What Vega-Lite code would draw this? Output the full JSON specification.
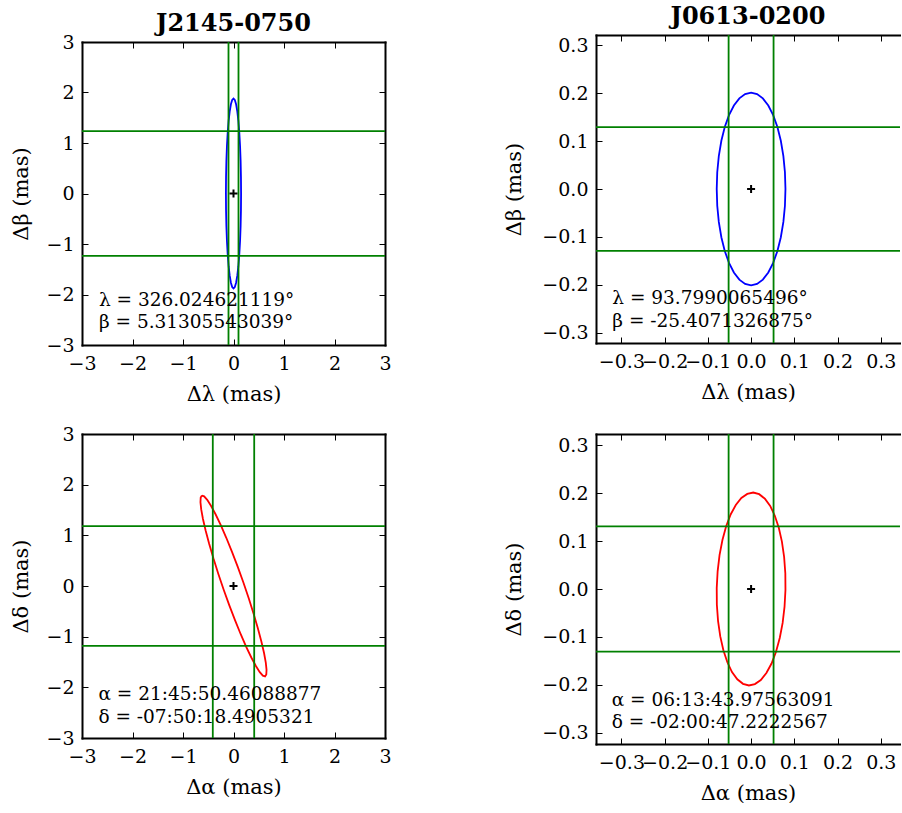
{
  "$schema": "https://vega.github.io/schema/vega-lite/v6.json",
  "padding": {"left": 10, "top": 5, "right": 0, "bottom": 0},
  "columns": 2,
  "spacing": {"row": 89, "column": 211},
  "bounds": "flush",
  "datasets": {
    "ellTL": [
      {"i":0,"x":0.150,"y":0},{"i":1,"x":0.1477,"y":0.3264},{"i":2,"x":0.1410,"y":0.6430},{"i":3,"x":0.1299,"y":0.9400},
      {"i":4,"x":0.1149,"y":1.2085},{"i":5,"x":0.0964,"y":1.4401},{"i":6,"x":0.0750,"y":1.6281},{"i":7,"x":0.0513,"y":1.7666},
      {"i":8,"x":0.0260,"y":1.8514},{"i":9,"x":0,"y":1.88},{"i":10,"x":-0.0260,"y":1.8514},{"i":11,"x":-0.0513,"y":1.7666},
      {"i":12,"x":-0.0750,"y":1.6281},{"i":13,"x":-0.0964,"y":1.4401},{"i":14,"x":-0.1149,"y":1.2085},{"i":15,"x":-0.1299,"y":0.9400},
      {"i":16,"x":-0.1410,"y":0.6430},{"i":17,"x":-0.1477,"y":0.3264},{"i":18,"x":-0.150,"y":0},{"i":19,"x":-0.1477,"y":-0.3264},
      {"i":20,"x":-0.1410,"y":-0.6430},{"i":21,"x":-0.1299,"y":-0.9400},{"i":22,"x":-0.1149,"y":-1.2085},{"i":23,"x":-0.0964,"y":-1.4401},
      {"i":24,"x":-0.0750,"y":-1.6281},{"i":25,"x":-0.0513,"y":-1.7666},{"i":26,"x":-0.0260,"y":-1.8514},{"i":27,"x":0,"y":-1.88},
      {"i":28,"x":0.0260,"y":-1.8514},{"i":29,"x":0.0513,"y":-1.7666},{"i":30,"x":0.0750,"y":-1.6281},{"i":31,"x":0.0964,"y":-1.4401},
      {"i":32,"x":0.1149,"y":-1.2085},{"i":33,"x":0.1299,"y":-0.9400},{"i":34,"x":0.1410,"y":-0.6430},{"i":35,"x":0.1477,"y":-0.3264},
      {"i":36,"x":0.150,"y":0}
    ],
    "ellTR": [
      {"i":0,"x":0.0795,"y":0},{"i":1,"x":0.0783,"y":0.0349},{"i":2,"x":0.0747,"y":0.0687},{"i":3,"x":0.0688,"y":0.1005},
      {"i":4,"x":0.0609,"y":0.1292},{"i":5,"x":0.0511,"y":0.1540},{"i":6,"x":0.0398,"y":0.1741},{"i":7,"x":0.0272,"y":0.1889},
      {"i":8,"x":0.0138,"y":0.1979},{"i":9,"x":0,"y":0.201},{"i":10,"x":-0.0138,"y":0.1979},{"i":11,"x":-0.0272,"y":0.1889},
      {"i":12,"x":-0.0398,"y":0.1741},{"i":13,"x":-0.0511,"y":0.1540},{"i":14,"x":-0.0609,"y":0.1292},{"i":15,"x":-0.0688,"y":0.1005},
      {"i":16,"x":-0.0747,"y":0.0687},{"i":17,"x":-0.0783,"y":0.0349},{"i":18,"x":-0.0795,"y":0},{"i":19,"x":-0.0783,"y":-0.0349},
      {"i":20,"x":-0.0747,"y":-0.0687},{"i":21,"x":-0.0688,"y":-0.1005},{"i":22,"x":-0.0609,"y":-0.1292},{"i":23,"x":-0.0511,"y":-0.1540},
      {"i":24,"x":-0.0398,"y":-0.1741},{"i":25,"x":-0.0272,"y":-0.1889},{"i":26,"x":-0.0138,"y":-0.1979},{"i":27,"x":0,"y":-0.201},
      {"i":28,"x":0.0138,"y":-0.1979},{"i":29,"x":0.0272,"y":-0.1889},{"i":30,"x":0.0398,"y":-0.1741},{"i":31,"x":0.0511,"y":-0.1540},
      {"i":32,"x":0.0609,"y":-0.1292},{"i":33,"x":0.0688,"y":-0.1005},{"i":34,"x":0.0747,"y":-0.0687},{"i":35,"x":0.0783,"y":-0.0349},
      {"i":36,"x":0.0795,"y":0}
    ],
    "ellBL": [
      {"i":0,"x":-0.6250,"y":1.7847},{"i":1,"x":-0.5815,"y":1.7695},{"i":2,"x":-0.5203,"y":1.7006},{"i":3,"x":-0.4433,"y":1.5798},
      {"i":4,"x":-0.3528,"y":1.4112},{"i":5,"x":-0.2517,"y":1.1997},{"i":6,"x":-0.1428,"y":0.9518},{"i":7,"x":-0.0296,"y":0.6749},
      {"i":8,"x":0.0845,"y":0.3774},{"i":9,"x":0.1960,"y":0.0686},{"i":10,"x":0.3015,"y":-0.2422},{"i":11,"x":0.3980,"y":-0.5459},
      {"i":12,"x":0.4822,"y":-0.8330},{"i":13,"x":0.5519,"y":-1.0947},{"i":14,"x":0.6048,"y":-1.3230},{"i":15,"x":0.6393,"y":-1.5112},
      {"i":16,"x":0.6543,"y":-1.6536},{"i":17,"x":0.6495,"y":-1.7457},{"i":18,"x":0.6250,"y":-1.7847},{"i":19,"x":0.5815,"y":-1.7695},
      {"i":20,"x":0.5203,"y":-1.7006},{"i":21,"x":0.4433,"y":-1.5798},{"i":22,"x":0.3528,"y":-1.4112},{"i":23,"x":0.2517,"y":-1.1997},
      {"i":24,"x":0.1428,"y":-0.9518},{"i":25,"x":0.0296,"y":-0.6749},{"i":26,"x":-0.0845,"y":-0.3774},{"i":27,"x":-0.1960,"y":-0.0686},
      {"i":28,"x":-0.3015,"y":0.2422},{"i":29,"x":-0.3980,"y":0.5459},{"i":30,"x":-0.4822,"y":0.8330},{"i":31,"x":-0.5519,"y":1.0947},
      {"i":32,"x":-0.6048,"y":1.3230},{"i":33,"x":-0.6393,"y":1.5112},{"i":34,"x":-0.6543,"y":1.6536},{"i":35,"x":-0.6495,"y":1.7457},
      {"i":36,"x":-0.6250,"y":1.7847}
    ],
    "ellBR": [
      {"i":0,"x":0.0795,"y":-0.0020},{"i":1,"x":0.0792,"y":0.0329},{"i":2,"x":0.0764,"y":0.0668},{"i":3,"x":0.0713,"y":0.0988},
      {"i":4,"x":0.0641,"y":0.1277},{"i":5,"x":0.0549,"y":0.1527},{"i":6,"x":0.0442,"y":0.1731},{"i":7,"x":0.0319,"y":0.1882},
      {"i":8,"x":0.0187,"y":0.1976},{"i":9,"x":0.0050,"y":0.2010},{"i":10,"x":-0.0088,"y":0.1982},{"i":11,"x":-0.0225,"y":0.1896},
      {"i":12,"x":-0.0354,"y":0.1751},{"i":13,"x":-0.0473,"y":0.1553},{"i":14,"x":-0.0577,"y":0.1307},{"i":15,"x":-0.0663,"y":0.1022},
      {"i":16,"x":-0.0730,"y":0.0706},{"i":17,"x":-0.0774,"y":0.0369},{"i":18,"x":-0.0795,"y":0.0020},{"i":19,"x":-0.0792,"y":-0.0329},
      {"i":20,"x":-0.0764,"y":-0.0668},{"i":21,"x":-0.0713,"y":-0.0988},{"i":22,"x":-0.0641,"y":-0.1277},{"i":23,"x":-0.0549,"y":-0.1527},
      {"i":24,"x":-0.0442,"y":-0.1731},{"i":25,"x":-0.0319,"y":-0.1882},{"i":26,"x":-0.0187,"y":-0.1976},{"i":27,"x":-0.0050,"y":-0.2010},
      {"i":28,"x":0.0088,"y":-0.1982},{"i":29,"x":0.0225,"y":-0.1896},{"i":30,"x":0.0354,"y":-0.1751},{"i":31,"x":0.0473,"y":-0.1553},
      {"i":32,"x":0.0577,"y":-0.1307},{"i":33,"x":0.0663,"y":-0.1022},{"i":34,"x":0.0730,"y":-0.0706},{"i":35,"x":0.0774,"y":-0.0369},
      {"i":36,"x":0.0795,"y":-0.0020}
    ],
    "gTL": [{"vx": -0.099, "hy": -1.237}, {"vx": 0.099, "hy": 1.237}],
    "gTR": [{"vx": -0.052, "hy": -0.129}, {"vx": 0.052, "hy": 0.129}],
    "gBL": [{"vx": -0.41, "hy": -1.18}, {"vx": 0.41, "hy": 1.18}],
    "gBR": [{"vx": -0.052, "hy": -0.1305}, {"vx": 0.052, "hy": 0.1305}],
    "center": [{"cx": 0, "cy": 0}],
    "tTL": [{"tx": -2.665, "ty": -2.234, "label": "λ = 326.024621119°"}, {"tx": -2.665, "ty": -2.669, "label": "β = 5.31305543039°"}],
    "tTR": [{"tx": -0.321, "ty": -0.2397, "label": "λ = 93.7990065496°"}, {"tx": -0.321, "ty": -0.2877, "label": "β = -25.4071326875°"}],
    "tBL": [{"tx": -2.675, "ty": -2.244, "label": "α = 21:45:50.46088877"}, {"tx": -2.675, "ty": -2.704, "label": "δ = -07:50:18.4905321"}],
    "tBR": [{"tx": -0.3225, "ty": -0.2432, "label": "α = 06:13:43.97563091"}, {"tx": -0.3225, "ty": -0.2897, "label": "δ = -02:00:47.2222567"}]
  },
  "concat": [
    {
      "width": 303, "height": 310,
      "title": {"text": "J2145-0750", "offset": -3},
      "resolve": {"axis": {"x": "independent", "y": "independent"}},
      "layer": [
        {
          "data": {"name": "ellTL"},
          "mark": {"type": "line", "color": "#0000ff", "strokeWidth": 1.8},
          "encoding": {
            "x": {"field": "x", "type": "quantitative", "scale": {"domain": [-3, 3], "nice": false, "zero": false},
                  "axis": {"orient": "bottom", "values": [-3,-2,-1,0,1,2,3], "format": "d", "title": "Δλ (mas)"}},
            "y": {"field": "y", "type": "quantitative", "scale": {"domain": [-3, 3], "nice": false, "zero": false, "range": [310, 7]},
                  "axis": {"orient": "left", "values": [-3,-2,-1,0,1,2,3], "format": "d", "title": "Δβ (mas)", "titlePadding": 14}},
            "order": {"field": "i", "type": "quantitative"}
          }
        },
        {
          "data": {"name": "gTL"},
          "mark": {"type": "rule", "color": "#008000", "strokeWidth": 1.8},
          "encoding": {
            "x": {"field": "vx", "type": "quantitative", "axis": null},
            "y": {"datum": -3, "type": "quantitative", "axis": null},
            "y2": {"datum": 3}
          }
        },
        {
          "data": {"name": "gTL"},
          "mark": {"type": "rule", "color": "#008000", "strokeWidth": 1.8},
          "encoding": {
            "y": {"field": "hy", "type": "quantitative", "axis": null},
            "x": {"datum": -3, "type": "quantitative", "axis": null},
            "x2": {"datum": 3}
          }
        },
        {
          "data": {"name": "tTL"},
          "mark": {"type": "text", "align": "left", "baseline": "alphabetic", "font": "DejaVu Serif", "fontSize": 18.5, "color": "black"},
          "encoding": {
            "x": {"field": "tx", "type": "quantitative", "axis": null},
            "y": {"field": "ty", "type": "quantitative", "axis": null},
            "text": {"field": "label"}
          }
        },
        {
          "data": {"name": "center"},
          "mark": {"type": "point", "shape": "M-1,0L1,0M0,-1L0,1", "filled": false, "stroke": "black", "strokeWidth": 2, "size": 64, "opacity": 1},
          "encoding": {
            "x": {"field": "cx", "type": "quantitative", "axis": {"orient": "top", "values": [-3,-2,-1,0,1,2,3], "labels": false, "title": null, "offset": -7}},
            "y": {"field": "cy", "type": "quantitative", "axis": {"orient": "right", "values": [-3,-2,-1,0,1,2,3], "labels": false, "title": null}}
          }
        }
      ]
    },
    {
      "width": 304, "height": 308,
      "title": {"text": "J0613-0200", "offset": 5},
      "resolve": {"axis": {"x": "independent", "y": "independent"}},
      "layer": [
        {
          "data": {"name": "ellTR"},
          "mark": {"type": "line", "color": "#0000ff", "strokeWidth": 1.8},
          "encoding": {
            "x": {"field": "x", "type": "quantitative", "scale": {"domain": [-0.3588, 0.3445], "nice": false, "zero": false},
                  "axis": {"orient": "bottom", "values": [-0.3,-0.2,-0.1,0,0.1,0.2,0.3], "format": ".1f", "title": "Δλ (mas)"}},
            "y": {"field": "y", "type": "quantitative", "scale": {"domain": [-0.321, 0.321], "nice": false, "zero": false},
                  "axis": {"orient": "left", "values": [-0.3,-0.2,-0.1,0,0.1,0.2,0.3], "format": ".1f", "title": "Δβ (mas)", "titlePadding": 17}},
            "order": {"field": "i", "type": "quantitative"}
          }
        },
        {
          "data": {"name": "gTR"},
          "mark": {"type": "rule", "color": "#008000", "strokeWidth": 1.8},
          "encoding": {
            "x": {"field": "vx", "type": "quantitative", "axis": null},
            "y": {"datum": -0.321, "type": "quantitative", "axis": null},
            "y2": {"datum": 0.321}
          }
        },
        {
          "data": {"name": "gTR"},
          "mark": {"type": "rule", "color": "#008000", "strokeWidth": 1.8},
          "encoding": {
            "y": {"field": "hy", "type": "quantitative", "axis": null},
            "x": {"datum": -0.3588, "type": "quantitative", "axis": null},
            "x2": {"datum": 0.3445}
          }
        },
        {
          "data": {"name": "tTR"},
          "mark": {"type": "text", "align": "left", "baseline": "alphabetic", "font": "DejaVu Serif", "fontSize": 18.5, "color": "black"},
          "encoding": {
            "x": {"field": "tx", "type": "quantitative", "axis": null},
            "y": {"field": "ty", "type": "quantitative", "axis": null},
            "text": {"field": "label"}
          }
        },
        {
          "data": {"name": "center"},
          "mark": {"type": "point", "shape": "M-1,0L1,0M0,-1L0,1", "filled": false, "stroke": "black", "strokeWidth": 2, "size": 64, "opacity": 1},
          "encoding": {
            "x": {"field": "cx", "type": "quantitative", "axis": {"orient": "top", "values": [-0.3,-0.2,-0.1,0,0.1,0.2,0.3], "labels": false, "title": null}},
            "y": {"field": "cy", "type": "quantitative", "axis": null}
          }
        }
      ]
    },
    {
      "width": 303, "height": 304,
      "resolve": {"axis": {"x": "independent", "y": "independent"}},
      "layer": [
        {
          "data": {"name": "ellBL"},
          "mark": {"type": "line", "color": "#ff0000", "strokeWidth": 1.8},
          "encoding": {
            "x": {"field": "x", "type": "quantitative", "scale": {"domain": [-3, 3], "nice": false, "zero": false},
                  "axis": {"orient": "bottom", "values": [-3,-2,-1,0,1,2,3], "format": "d", "title": "Δα (mas)"}},
            "y": {"field": "y", "type": "quantitative", "scale": {"domain": [-3, 3], "nice": false, "zero": false},
                  "axis": {"orient": "left", "values": [-3,-2,-1,0,1,2,3], "format": "d", "title": "Δδ (mas)", "titlePadding": 14}},
            "order": {"field": "i", "type": "quantitative"}
          }
        },
        {
          "data": {"name": "gBL"},
          "mark": {"type": "rule", "color": "#008000", "strokeWidth": 1.8},
          "encoding": {
            "x": {"field": "vx", "type": "quantitative", "axis": null},
            "y": {"datum": -3, "type": "quantitative", "axis": null},
            "y2": {"datum": 3}
          }
        },
        {
          "data": {"name": "gBL"},
          "mark": {"type": "rule", "color": "#008000", "strokeWidth": 1.8},
          "encoding": {
            "y": {"field": "hy", "type": "quantitative", "axis": null},
            "x": {"datum": -3, "type": "quantitative", "axis": null},
            "x2": {"datum": 3}
          }
        },
        {
          "data": {"name": "tBL"},
          "mark": {"type": "text", "align": "left", "baseline": "alphabetic", "font": "DejaVu Serif", "fontSize": 18.5, "color": "black"},
          "encoding": {
            "x": {"field": "tx", "type": "quantitative", "axis": null},
            "y": {"field": "ty", "type": "quantitative", "axis": null},
            "text": {"field": "label"}
          }
        },
        {
          "data": {"name": "center"},
          "mark": {"type": "point", "shape": "M-1,0L1,0M0,-1L0,1", "filled": false, "stroke": "black", "strokeWidth": 2, "size": 64, "opacity": 1},
          "encoding": {
            "x": {"field": "cx", "type": "quantitative", "axis": {"orient": "top", "values": [-3,-2,-1,0,1,2,3], "labels": false, "title": null}},
            "y": {"field": "cy", "type": "quantitative", "axis": {"orient": "right", "values": [-3,-2,-1,0,1,2,3], "labels": false, "title": null}}
          }
        }
      ]
    },
    {
      "width": 304, "height": 310,
      "resolve": {"axis": {"x": "independent", "y": "independent"}},
      "layer": [
        {
          "data": {"name": "ellBR"},
          "mark": {"type": "line", "color": "#ff0000", "strokeWidth": 1.8},
          "encoding": {
            "x": {"field": "x", "type": "quantitative", "scale": {"domain": [-0.3588, 0.3445], "nice": false, "zero": false},
                  "axis": {"orient": "bottom", "values": [-0.3,-0.2,-0.1,0,0.1,0.2,0.3], "format": ".1f", "title": "Δα (mas)"}},
            "y": {"field": "y", "type": "quantitative", "scale": {"domain": [-0.323, 0.323], "nice": false, "zero": false},
                  "axis": {"orient": "left", "values": [-0.3,-0.2,-0.1,0,0.1,0.2,0.3], "format": ".1f", "title": "Δδ (mas)", "titlePadding": 17}},
            "order": {"field": "i", "type": "quantitative"}
          }
        },
        {
          "data": {"name": "gBR"},
          "mark": {"type": "rule", "color": "#008000", "strokeWidth": 1.8},
          "encoding": {
            "x": {"field": "vx", "type": "quantitative", "axis": null},
            "y": {"datum": -0.323, "type": "quantitative", "axis": null},
            "y2": {"datum": 0.323}
          }
        },
        {
          "data": {"name": "gBR"},
          "mark": {"type": "rule", "color": "#008000", "strokeWidth": 1.8},
          "encoding": {
            "y": {"field": "hy", "type": "quantitative", "axis": null},
            "x": {"datum": -0.3588, "type": "quantitative", "axis": null},
            "x2": {"datum": 0.3445}
          }
        },
        {
          "data": {"name": "tBR"},
          "mark": {"type": "text", "align": "left", "baseline": "alphabetic", "font": "DejaVu Serif", "fontSize": 18.5, "color": "black"},
          "encoding": {
            "x": {"field": "tx", "type": "quantitative", "axis": null},
            "y": {"field": "ty", "type": "quantitative", "axis": null},
            "text": {"field": "label"}
          }
        },
        {
          "data": {"name": "center"},
          "mark": {"type": "point", "shape": "M-1,0L1,0M0,-1L0,1", "filled": false, "stroke": "black", "strokeWidth": 2, "size": 64, "opacity": 1},
          "encoding": {
            "x": {"field": "cx", "type": "quantitative", "axis": {"orient": "top", "values": [-0.3,-0.2,-0.1,0,0.1,0.2,0.3], "labels": false, "title": null}},
            "y": {"field": "cy", "type": "quantitative", "axis": null}
          }
        }
      ]
    }
  ],
  "config": {
    "font": "DejaVu Serif",
    "background": "white",
    "view": {"stroke": null},
    "axis": {
      "grid": false,
      "domain": true,
      "domainColor": "black",
      "domainWidth": 2,
      "domainCap": "square",
      "ticks": true,
      "tickColor": "black",
      "tickWidth": 1,
      "tickSize": -6,
      "labelFont": "DejaVu Serif",
      "labelFontSize": 19,
      "labelColor": "black",
      "labelFlush": false,
      "labelOverlap": false,
      "labelBound": false,
      "titleFont": "DejaVu Serif",
      "titleFontSize": 21,
      "titleFontWeight": "normal",
      "titleColor": "black"
    },
    "axisX": {"labelPadding": 15, "titlePadding": 10},
    "axisY": {"labelPadding": 14},
    "title": {"font": "DejaVu Serif", "fontSize": 24, "fontWeight": "bold", "color": "black", "baseline": "alphabetic", "anchor": "middle", "frame": "group"}
  }
}
